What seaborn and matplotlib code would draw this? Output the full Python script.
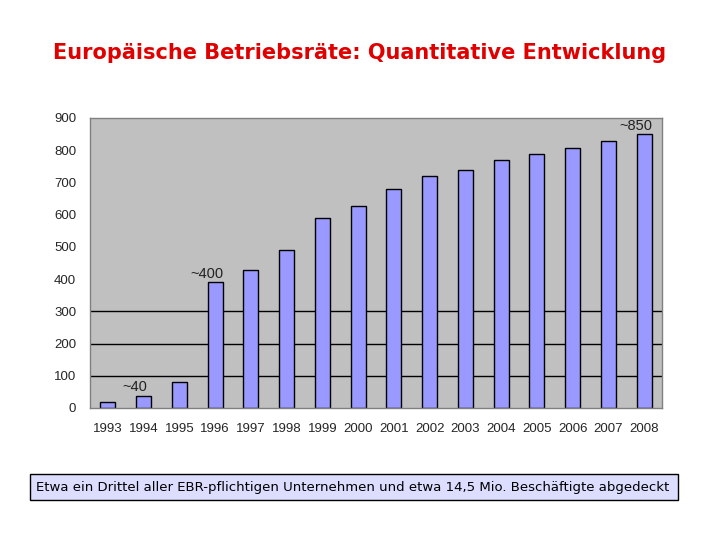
import matplotlib
matplotlib.use("Agg")
import matplotlib.pyplot as plt
import seaborn as sns
import pandas as pd
from matplotlib.patches import Rectangle

years = [str(y) for y in range(1993, 2009)]
counts = [18, 38, 81, 391, 428, 490, 590, 627, 680, 720, 739, 770, 788, 807, 829, 850]
notes = {"1994": "~40", "1996": "~400", "2008": "~850"}
grid_levels = [100, 200, 300]

df = pd.DataFrame({"Jahr": years, "EBR": counts})

sns.set_style("white")
plt.rcParams["font.family"] = ["Liberation Sans", "DejaVu Sans"]

fig = plt.figure(figsize=(7.2, 5.4), dpi=100)
ax = fig.add_axes([90 / 720, 1 - 408 / 540, 572 / 720, 290 / 540])
ax.set_facecolor("#C0C0C0")

for lvl in grid_levels:
    ax.axhline(lvl, color="black", lw=1.0, zorder=0)

sns.barplot(data=df, x="Jahr", y="EBR", color="#9999FF", saturation=1,
            width=0.42, edgecolor="black", linewidth=1.0, ax=ax, zorder=2)

for i, (yr, val) in enumerate(zip(years, counts)):
    if yr in notes:
        ax.annotate(notes[yr], (i, val), xytext=(-6, 1), textcoords="offset points",
                    ha="center", va="bottom", fontsize=10.5, color="#222222")

ax.set_ylim(0, 900)
ax.set_xlim(-0.5, len(years) - 0.5)
ax.set_yticks(range(0, 901, 100))
ax.set_xlabel("")
ax.set_ylabel("")
ax.tick_params(axis="both", length=0, labelsize=9.5)
ax.tick_params(axis="y", pad=10)
ax.tick_params(axis="x", pad=11)
for s in ax.spines.values():
    s.set_color("#808080")
    s.set_linewidth(1.0)

fig.text(0.5, 1 - 53 / 540, "Europäische Betriebsräte: Quantitative Entwicklung",
         ha="center", va="center", fontsize=15, fontweight="bold", color="#E00000",
         family=["DejaVu Sans"])

fig.patches.append(Rectangle((30 / 720, 1 - 500 / 540), 648 / 720, 26 / 540,
                             transform=fig.transFigure, facecolor="#DDDDFF",
                             edgecolor="black", linewidth=1.0))
fig.text(36 / 720, 1 - 487 / 540,
         "Etwa ein Drittel aller EBR-pflichtigen Unternehmen und etwa 14,5 Mio. Beschäftigte abgedeckt",
         ha="left", va="center", fontsize=9.5, color="black", family=["DejaVu Sans"])

fig.savefig("out.png", dpi=100, facecolor="white")
